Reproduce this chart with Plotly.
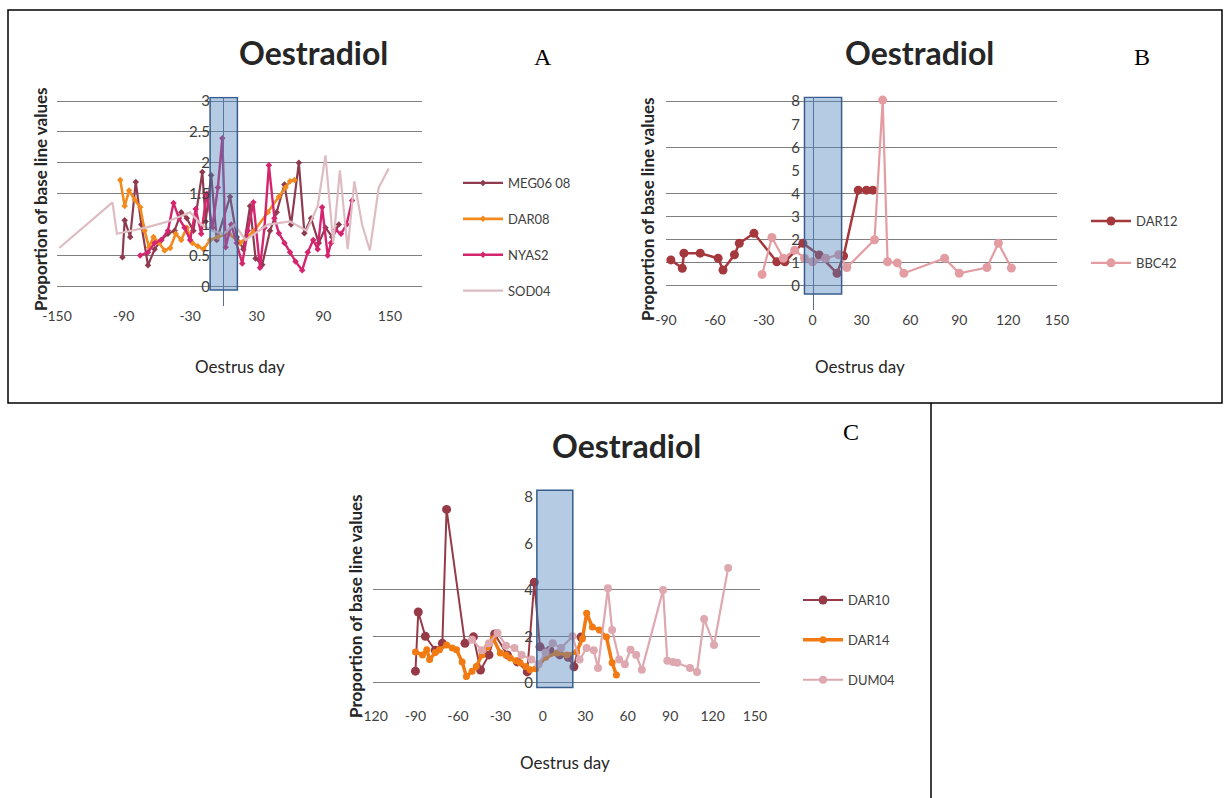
import plotly.graph_objects as go

W, H = 1224, 798

# ---------------- Panel A data ----------------
a_meg_x = [-91, -89, -84, -79, -74, -68, -62, -56, -50, -44, -38, -33, -27, -19, -16, -11, -6, 6, 12, 18, 24, 29, 35, 42, 48, 55, 61, 68, 73, 79, 86, 92, 98, 104]
a_meg_y = [0.47, 1.07, 0.8, 1.69, 1.0, 0.34, 0.6, 0.75, 0.85, 0.9, 1.2, 1.1, 0.9, 1.85, 1.05, 1.8, 0.75, 1.45, 0.8, 0.6, 1.3, 0.45, 0.35, 0.9, 1.2, 1.65, 1.0, 2.0, 0.86, 1.1, 0.7, 0.95, 0.8, 1.0]

a_dar08_x = [-93, -89, -85, -80, -75, -71, -67, -63, -58, -53, -48, -43, -38, -33, -28, -23, -18, -12, -5, 5, 15, 28, 40, 50, 56, 60, 64]
a_dar08_y = [1.72, 1.3, 1.55, 1.4, 1.28, 0.9, 0.63, 0.8, 0.7, 0.58, 0.62, 0.85, 0.75, 0.95, 0.7, 0.65, 0.6, 0.75, 0.8, 0.85, 0.7, 0.9, 1.2, 1.45, 1.6, 1.7, 1.72]

a_nyas_x = [-75, -68, -62, -56, -50, -45, -40, -35, -30, -25, -20, -15, -10, -5, -1, 2, 7, 12, 17, 22, 27, 33, 37, 41, 46, 50, 55, 60, 65, 71, 76, 81, 85, 89, 94, 97, 101, 106, 111, 116]
a_nyas_y = [0.5, 0.55, 0.7, 0.75, 0.9, 1.35, 1.1, 0.95, 0.75, 1.25, 0.85, 1.5, 0.95, 1.6, 2.4, 0.63, 1.0, 0.7, 0.37, 0.9, 1.36, 0.3, 0.95, 1.96, 1.1, 0.86, 0.7, 0.55, 0.4, 0.26, 0.55, 0.75, 0.6, 1.28, 0.5, 0.7, 0.91, 0.85, 1.0, 1.39]

a_sod_x = [-148, -100, -96, -70, -50, -30, -20, -10, 0, 10, 20, 40, 60, 75, 85, 92, 99, 105, 112, 118, 125, 132, 140, 149]
a_sod_y = [0.62, 1.36, 0.85, 0.95, 1.05, 1.2, 1.0, 0.9, 0.85, 1.0, 0.75, 1.0, 1.05, 0.9, 1.3, 2.12, 0.7, 1.88, 0.6, 1.7, 1.0, 0.58, 1.6, 1.91]

# ---------------- Panel B data ----------------
b_dar12_x = [-87, -80, -79, -69, -58, -55, -48, -45, -36, -22, -17, -6, 4, 15, 19, 28, 33, 37]
b_dar12_y = [1.13, 0.77, 1.42, 1.42, 1.2, 0.69, 1.35, 1.85, 2.28, 1.05, 1.05, 1.85, 1.34, 0.55, 1.3, 4.15, 4.15, 4.15]

b_bbc_x = [-31, -25, -18, -11, -5, 0, 8, 16, 21, 38, 43, 46, 52, 56, 81, 90, 107, 114, 122]
b_bbc_y = [0.5, 2.1, 1.2, 1.55, 1.2, 1.05, 1.2, 1.35, 0.8, 2.0, 8.05, 1.05, 1.0, 0.55, 1.2, 0.55, 0.8, 1.85, 0.78]

# ---------------- Panel C data ----------------
c_dar10_x = [-90, -88, -83, -76, -71, -68, -55, -49, -44, -38, -34, -25, -18, -11, -6, -2, 5, 12, 18, 22, 27]
c_dar10_y = [0.5, 3.05, 2.0, 1.4, 1.7, 7.47, 1.7, 1.98, 0.55, 1.2, 2.1, 1.2, 0.9, 0.47, 4.33, 1.55, 1.4, 1.2, 1.1, 0.69, 1.97]

c_dar14_x = [-90, -85, -82, -80, -76, -73, -68, -64, -61, -57, -54, -50, -47, -43, -39, -35, -30, -26, -23, -19, -16, -12, -9, -5, 2, 10, 17, 24, 28, 31, 35, 40, 45, 49, 52]
c_dar14_y = [1.33, 1.2, 1.42, 1.0, 1.3, 1.42, 1.63, 1.5, 1.42, 0.9, 0.27, 0.5, 0.7, 1.2, 1.55, 1.9, 1.28, 1.2, 1.07, 0.95, 0.86, 0.7, 0.56, 0.6, 1.1, 1.28, 1.2, 1.33, 1.9, 3.0, 2.4, 2.27, 1.97, 0.86, 0.34]

c_dum_x = [-50, -43, -38, -32, -26, -20, -15, -8, -3, 2, 7, 13, 21, 26, 31, 36, 39, 46, 49, 54, 58, 62, 66, 70, 85, 88, 92, 95, 104, 109, 114, 121, 131]
c_dum_y = [1.85, 1.4, 1.7, 2.15, 1.6, 1.5, 1.2, 1.0, 0.8, 1.3, 1.7, 1.5, 2.0, 1.0, 1.5, 1.4, 0.64, 4.07, 2.27, 1.0, 0.8, 1.42, 1.2, 0.56, 4.0, 0.95, 0.9, 0.86, 0.64, 0.47, 2.75, 1.63, 4.95]

# tick labels
a_xticks = [-150, -90, -30, 30, 90, 150]
a_yticks = [0, 0.5, 1, 1.5, 2, 2.5, 3]
a_ygrid = [0, 0.5, 1.5, 2, 2.5, 3]
b_xticks = [-90, -60, -30, 0, 30, 60, 90, 120, 150]
b_yticks = [0, 1, 2, 3, 4, 5, 6, 7, 8]
b_ygrid = [0, 1, 2, 3, 4, 6, 8]
c_xticks = [-120, -90, -60, -30, 0, 30, 60, 90, 120, 150]
c_yticks = [0, 2, 4, 6, 8]
c_ygrid = [0, 2, 4]


def px(x):
    return x / W


def py(y):
    return 1 - y / H


def lbl(v):
    return ('%g' % v)


fig = go.Figure()


def add(name, xs, ys, color, xa, ya, legend, msize, lwidth, symbol='circle'):
    fig.add_trace(go.Scatter(
        x=xs, y=ys, name=name, mode='lines+markers',
        line=dict(color=color, width=lwidth),
        marker=dict(color=color, size=msize, symbol=symbol),
        xaxis=xa, yaxis=ya, legend=legend, legendgroup=name + xa,
        cliponaxis=False))


add('MEG06 08', a_meg_x, a_meg_y, '#8E3B50', 'x', 'y', 'legend', 5, 2.2, 'diamond')
add('DAR08', a_dar08_x, a_dar08_y, '#F28A1E', 'x', 'y', 'legend', 5, 2.6, 'diamond')
add('NYAS2', a_nyas_x, a_nyas_y, '#D3266F', 'x', 'y', 'legend', 5, 2.4, 'diamond')
add('SOD04', a_sod_x, a_sod_y, '#DDBCC2', 'x', 'y', 'legend', 4, 2.2, 'line-ew')

add('DAR12', b_dar12_x, b_dar12_y, '#A5383C', 'x2', 'y2', 'legend2', 9, 2.5)
add('BBC42', b_bbc_x, b_bbc_y, '#E39DA2', 'x2', 'y2', 'legend2', 9, 2.2)

add('DAR10', c_dar10_x, c_dar10_y, '#963A48', 'x3', 'y3', 'legend3', 9, 2.0)
add('DAR14', c_dar14_x, c_dar14_y, '#F27A12', 'x3', 'y3', 'legend3', 7, 3.5)
add('DUM04', c_dum_x, c_dum_y, '#DDA8B0', 'x3', 'y3', 'legend3', 8, 2.2)

# empty traces so that the overlaid label axes get drawn
for xa, ya in [('x', 'y4'), ('x2', 'y5'), ('x3', 'y6')]:
    fig.add_trace(go.Scatter(x=[None], y=[None], xaxis=xa, yaxis=ya, showlegend=False,
                             hoverinfo='skip', mode='markers'))

tickfont = dict(family='Lato, Open Sans, sans-serif', size=14, color='#404040')
ytickfont = dict(family='Lato, Open Sans, sans-serif', size=15, color='#404040')
gridcolor = '#7F7F7F'

panels = [
    # xname, yname, labname, labref, xdom(px), ydom(px), xrange, yrange, xticks, yticks, ygrid, x0px, yref, xref
    ('xaxis', 'yaxis', 'yaxis4', 'y4', (57, 422), (96.8, 306), [-150, 179], [-0.32, 3.07], a_xticks, a_yticks, a_ygrid, 223, 'y', 'x'),
    ('xaxis2', 'yaxis2', 'yaxis5', 'y5', (666, 1057), (96.6, 310), [-90, 150], [-1.04, 8.2], b_xticks, b_yticks, b_ygrid, 813, 'y2', 'x2'),
    ('xaxis3', 'yaxis3', 'yaxis6', 'y6', (373, 760), (489, 706), [-120, 153.5], [-1.0, 8.35], c_xticks, c_yticks, c_ygrid, 543, 'y3', 'x3'),
]

layout = {}
for xn, yn, ln, lref, xd, yd, xr, yr, xt, yt, yg, x0, yref, xref in panels:
    layout[xn] = dict(domain=[px(xd[0]), px(xd[1])], range=xr, tickvals=xt,
                      ticktext=[lbl(v) for v in xt],
                      showgrid=False, zeroline=False, showline=False, automargin=False,
                      anchor=yref, tickfont=tickfont, ticks='')
    layout[yn] = dict(domain=[py(yd[1]), py(yd[0])], range=yr, tickvals=yg,
                      showticklabels=False, showgrid=True, gridcolor=gridcolor,
                      gridwidth=1.3, zeroline=False, anchor=xref, ticks='', automargin=False)
    layout[ln] = dict(overlaying=yref, anchor='free', position=px(x0), range=yr,
                      tickvals=yt, ticktext=[lbl(v) for v in yt], showgrid=False, zeroline=False,
                      showline=(xref != 'x3'), linecolor='#5A6E90', linewidth=1.2,
                      tickfont=ytickfont, ticks='', ticklabelstandoff=10, automargin=False)

fig.update_layout(**layout)

# shaded oestrus windows
boxes = [('x', 'y', -12, 12.6, -0.06, 3.06), ('x2', 'y2', -5, 17.8, -0.35, 8.17), ('x3', 'y3', -4.2, 21.2, -0.2, 8.3)]
for xr_, yr_, a0, a1, b0, b1 in boxes:
    fig.add_shape(type='rect', xref=xr_, yref=yr_, x0=a0, x1=a1, y0=b0, y1=b1,
                  fillcolor='rgba(79,129,189,0.42)', line=dict(color='#385D8A', width=1.5),
                  layer='above')

# frame
fig.add_shape(type='rect', xref='paper', yref='paper', x0=px(8), x1=px(1222), y0=py(403), y1=py(10),
              line=dict(color='black', width=1.5), fillcolor='rgba(0,0,0,0)')
fig.add_shape(type='line', xref='paper', yref='paper', x0=px(931), x1=px(931), y0=py(403), y1=0,
              line=dict(color='black', width=1.5))

ann = []
titlefont = dict(family='Lato, Open Sans, sans-serif', size=32, color='#262626')
for (x, y) in [(313, 52), (919, 52), (626, 445)]:
    ann.append(dict(text='<b>Oestradiol</b>', x=px(x), y=py(y), xref='paper', yref='paper',
                    xanchor='center', yanchor='middle', showarrow=False, font=titlefont))
letterfont = dict(family='Liberation Serif, Times New Roman, serif', size=24, color='black')
for (t, x, y) in [('A', 543, 57), ('B', 1142, 57), ('C', 851, 432)]:
    ann.append(dict(text=t, x=px(x), y=py(y), xref='paper', yref='paper', xanchor='center',
                    yanchor='middle', showarrow=False, font=letterfont))
xtfont = dict(family='Lato, Open Sans, sans-serif', size=17, color='#262626')
for (x, y) in [(240, 366), (860, 366), (565, 762)]:
    ann.append(dict(text='Oestrus day', x=px(x), y=py(y), xref='paper', yref='paper', xanchor='center',
                    yanchor='middle', showarrow=False, font=xtfont))
ytfont = dict(family='Lato, Open Sans, sans-serif', size=17, color='#262626')
for (x, y) in [(40, 199), (648, 209), (355, 606)]:
    ann.append(dict(text='<b>Proportion of base line values</b>', x=px(x), y=py(y), xref='paper', yref='paper',
                    xanchor='center', yanchor='middle', showarrow=False, textangle=-90, font=ytfont))
fig.update_layout(annotations=ann)

legfont = dict(family='Lato, Open Sans, sans-serif', size=13, color='#404040')
fig.update_layout(
    legend=dict(x=px(458), y=py(168), xanchor='left', yanchor='top', bgcolor='rgba(0,0,0,0)',
                font=legfont, tracegroupgap=16, itemwidth=40),
    legend2=dict(x=px(1086), y=py(206), xanchor='left', yanchor='top', bgcolor='rgba(0,0,0,0)',
                 font=legfont, tracegroupgap=22, itemwidth=40),
    legend3=dict(x=px(798), y=py(585), xanchor='left', yanchor='top', bgcolor='rgba(0,0,0,0)',
                 font=legfont, tracegroupgap=20, itemwidth=40),
)

fig.update_layout(width=W, height=H, margin=dict(l=0, r=0, t=0, b=0, autoexpand=False),
                  paper_bgcolor='white', plot_bgcolor='rgba(0,0,0,0)', showlegend=True)

fig.write_html('out.html')
